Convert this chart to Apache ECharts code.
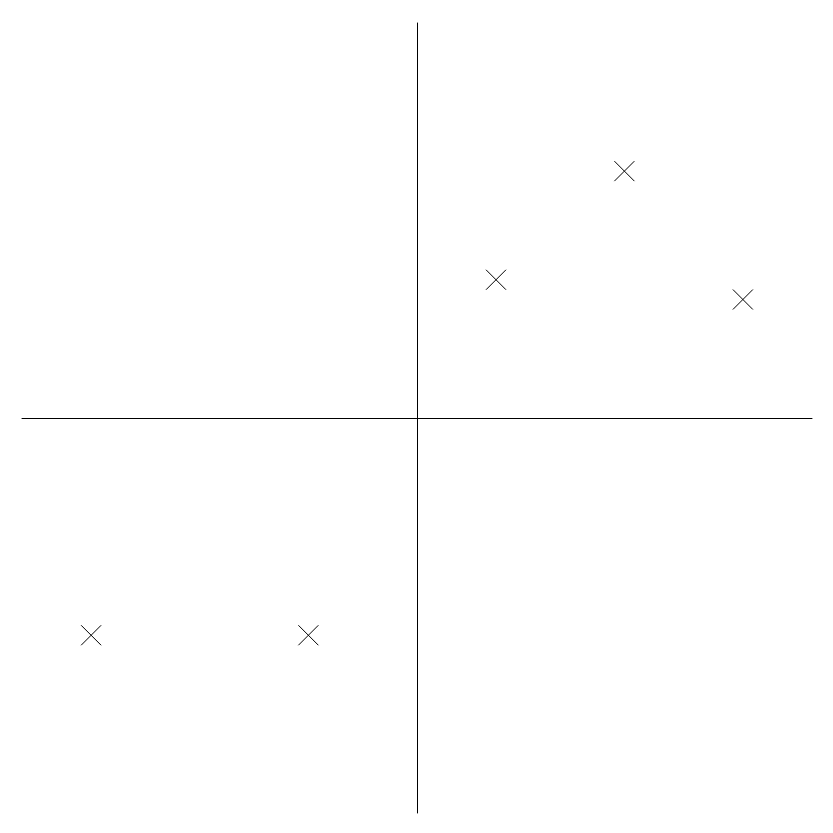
<!DOCTYPE html>
<html>
<head>
<meta charset="utf-8">
<script src="https://cdn.jsdelivr.net/npm/echarts@6/dist/echarts.min.js"></script>
<style>html,body{margin:0;padding:0;background:#fff}#c{width:833px;height:833px}</style>
</head>
<body>
<div id="c"></div>
<script>
const xValues = [5.25, 2, 8.25, -8.25, -2.75];
const yValues = [6.25, 3.5, 3, -5.5, -5.5];
const axisMin = -10;
const axisMax = 10;

const points = xValues.map((x, i) => [x, yValues[i]]);
const chart = echarts.init(document.getElementById('c'), null, {renderer: 'canvas'});
const axisCommon = {
  type: 'value', min: axisMin, max: axisMax,
  axisLine: {show: true, onZero: true, lineStyle: {color: '#000', width: 1}},
  axisTick: {show: false}, axisLabel: {show: false}, splitLine: {show: false}
};
chart.setOption({
  animation: false,
  backgroundColor: '#fff',
  grid: {left: 22, right: 21, top: 23, bottom: 20},
  xAxis: Object.assign({}, axisCommon),
  yAxis: Object.assign({}, axisCommon),
  series: [{
    type: 'scatter',
    data: points,
    symbol: 'path://M0,0L10,10M10,0L0,10',
    symbolSize: 20,
    itemStyle: {color: 'none', borderColor: '#000', borderWidth: 1, opacity: 1}
  }]
});
</script>
</body>
</html>
